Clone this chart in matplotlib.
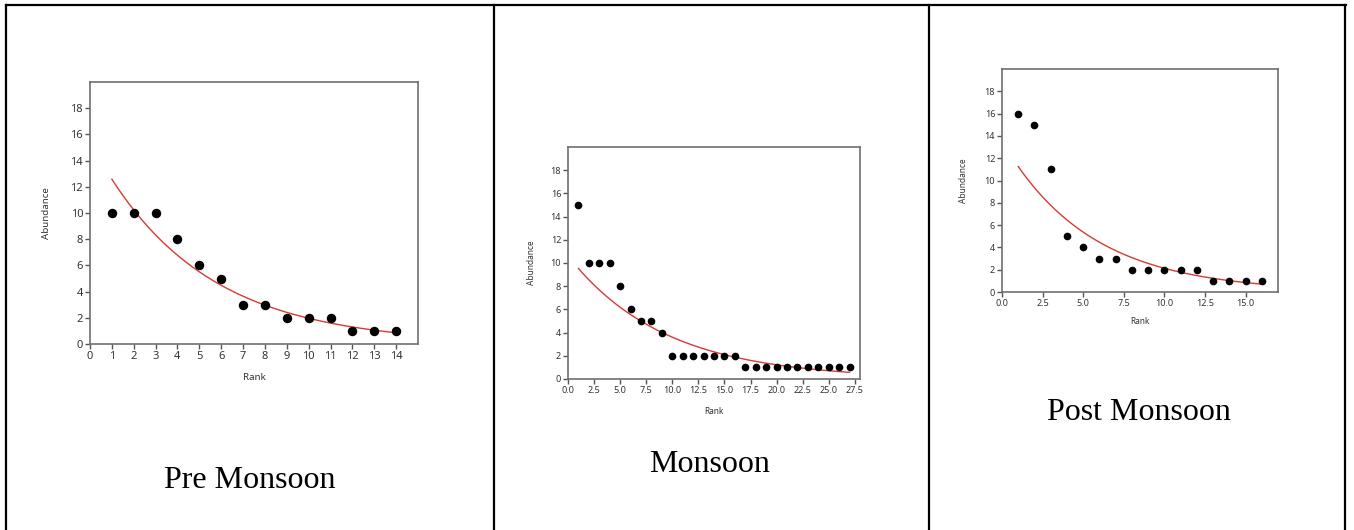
import numpy as np
import matplotlib
matplotlib.use("Agg")
import matplotlib.pyplot as plt
from matplotlib.lines import Line2D

# abundance by rank
pre_abund = [10, 10, 10, 8, 6, 5, 3, 3, 2, 2, 2, 1, 1, 1]
mon_abund = [15, 10, 10, 10, 8, 6, 5, 5, 4, 2, 2, 2, 2, 2, 2, 2,
             1, 1, 1, 1, 1, 1, 1, 1, 1, 1, 1]
post_abund = [16, 15, 11, 5, 4, 3, 3, 2, 2, 2, 2, 2, 1, 1, 1, 1]

titles = ["Pre Monsoon", "Monsoon", "Post Monsoon"]

W, H = 1354, 530
fig = plt.figure(figsize=(W / 100, H / 100), dpi=100)
plt.rcParams['font.family'] = ['Noto Sans', 'DejaVu Sans']


def box(l, t, r, b):
    # pixel box -> figure fraction
    return [l / W, 1 - b / H, (r - l) / W, (b - t) / H]


def panel(rect, abund, xlim, xticks, xfmt, ms, tsize, lsize, ylab_x, xlab_y):
    ax = fig.add_axes(box(*rect))
    rank = np.arange(1, len(abund) + 1)
    # geometric series fit (log-linear regression)
    k, c = np.polyfit(rank, np.log(abund), 1)
    xs = np.linspace(1, len(abund), 200)
    ax.plot(xs, np.exp(c + k * xs), color='#d83a34', lw=1.0, zorder=2)
    ax.plot(rank, abund, 'o', color='black', ms=ms, zorder=3)
    ax.set_xlim(*xlim)
    ax.set_ylim(0, 20)
    ax.set_xticks(xticks)
    ax.set_xticklabels([xfmt.format(v) for v in xticks])
    ax.set_yticks(range(0, 19, 2))
    ax.tick_params(direction='out', length=3.5, width=1, colors='#555555',
                   labelsize=tsize, labelcolor='#333333', pad=1.5)
    for s in ax.spines.values():
        s.set_color('#707070')
        s.set_linewidth(1.2)
    fig.text(ylab_x / W, 1 - (rect[1] + rect[3]) / 2 / H, 'Abundance',
             rotation=90, ha='center', va='center', fontsize=lsize, color='#333333')
    fig.text((rect[0] + rect[2]) / 2 / W, 1 - xlab_y / H, 'Rank',
             ha='center', va='center', fontsize=lsize, color='#333333')
    return ax


panel((90, 82, 418, 344), pre_abund, (0, 15), list(range(0, 15)), '{}',
      5.8, 8, 7, 46, 378)
panel((568, 147, 860, 379), mon_abund, (0, 28), list(np.arange(0, 28, 2.5)),
      '{:.1f}', 4.5, 6.5, 6, 531, 412)
panel((1002, 69, 1278, 292), post_abund, (0, 17), list(np.arange(0, 16, 2.5)),
      '{:.1f}', 4.5, 6.5, 6, 963, 322)

# captions under each chart
cap_x = [250, 710, 1139]
cap_base = [488, 472, 420]
for t, x, y in zip(titles, cap_x, cap_base):
    fig.text(x / W, 1 - y / H, t, ha='center', va='baseline',
             fontsize=23, family='Liberation Serif', color='black')

# table borders
def pline(x0, y0, x1, y1):
    fig.add_artist(Line2D([x0 / W, x1 / W], [1 - y0 / H, 1 - y1 / H],
                          transform=fig.transFigure, color='black', lw=1.6))

pline(6, 5, 1346, 5)
for x in [6, 494, 929, 1345]:
    pline(x, 5, x, 530)

fig.savefig('out.png', dpi=100)
